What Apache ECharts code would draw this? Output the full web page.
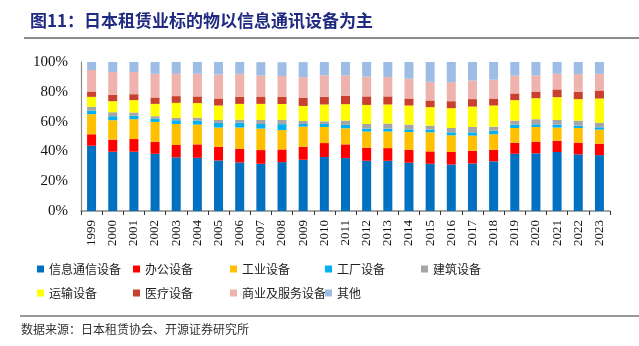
<!DOCTYPE html>
<html>
<head>
<meta charset="utf-8">
<script src="https://cdn.jsdelivr.net/npm/echarts@6/dist/echarts.min.js"></script>
<style>
html,body{margin:0;padding:0;background:#fff;}
#c{width:639px;height:346px;}
</style>
</head>
<body>
<div id="c"></div>
<script>
const years = ['1999','2000','2001','2002','2003','2004','2005','2006','2007','2008','2009','2010','2011','2012','2013','2014','2015','2016','2017','2018','2019','2020','2021','2022','2023'];
const seriesNames = ['信息通信设备','办公设备','工业设备','工厂设备','建筑设备','运输设备','医疗设备','商业及服务设备','其他'];
const infoComm = [43.8,39.8,39.8,38.4,36.0,35.7,33.9,32.6,31.7,32.8,34.4,36.2,35.5,33.7,33.7,32.4,31.7,31.2,31.9,33.3,38.4,38.7,39.6,38.0,37.5];
const office = [7.7,8.1,8.5,8.1,8.3,9.0,9.2,9.2,9.2,8.5,8.7,9.4,9.2,8.8,8.5,8.7,8.3,8.4,8.5,7.8,7.4,7.8,7.6,7.8,7.7];
const industrial = [13.5,13.0,13.3,13.3,14.1,13.3,12.9,14.2,14.4,13.0,13.5,10.8,10.8,10.8,11.1,11.9,12.8,11.2,10.2,10.4,9.9,9.9,8.8,9.9,9.4];
const factory = [2.4,2.7,2.4,2.2,2.5,2.7,3.1,3.3,3.1,4.0,1.8,2.0,2.3,2.0,2.0,1.8,1.8,2.0,2.2,2.4,2.3,1.8,2.0,1.6,1.6];
const construction = [2.5,2.7,2.1,1.6,1.6,2.0,2.0,2.0,2.7,2.9,2.0,1.8,2.9,3.1,3.4,3.2,2.7,2.9,3.6,2.7,2.7,3.4,3.1,3.4,3.1];
const transport = [6.7,7.4,8.3,8.3,10.1,9.7,9.7,10.6,10.8,10.6,10.1,11.3,11.0,12.8,12.8,12.8,12.4,13.3,13.7,14.2,13.7,14.1,15.3,14.4,16.2];
const medical = [3.6,4.3,4.0,4.3,4.5,4.5,4.7,4.7,4.9,4.9,5.6,5.1,5.6,5.7,5.4,4.7,4.5,4.7,5.0,4.7,4.5,4.5,5.2,4.9,5.4];
const commercial = [14.4,15.3,14.9,15.9,15.0,15.2,16.2,15.5,14.1,13.9,13.7,14.4,13.7,13.4,13.0,13.3,12.5,12.8,12.5,12.6,11.9,10.8,10.5,11.9,11.2];
const others = [5.4,6.7,6.7,7.9,7.9,7.9,8.3,7.9,9.0,9.2,10.1,9.0,9.0,9.7,10.1,11.2,13.3,13.5,12.4,11.9,9.2,9.0,7.9,8.1,7.9];
const yTickLabels = ['0%','20%','40%','60%','80%','100%'];

const seriesData = [infoComm, office, industrial, factory, construction, transport, medical, commercial, others];
const colors = ['#0070C0','#FF0000','#FFC000','#00B0F0','#A5A5A5','#FFFF00','#C9402F','#EDB3AC','#9DBCE6'];

const legendPos = [[37,263],[133,263],[230,263],[325,263],[421,263],[37,287],[133,287],[230,287],[325,287]];

const chart = echarts.init(document.getElementById('c'));
chart.setOption({
  animation: false,
  color: colors,
  title: {
    text: '图11：日本租赁业标的物以信息通讯设备为主',
    left: 25, top: 7,
    textStyle: {fontFamily: 'Noto Sans CJK SC', fontSize: 17, fontWeight: 'bold', color: '#1F2A80'}
  },
  graphic: [
    {type: 'rect', shape: {x: 24, y: 37, width: 615, height: 2}, style: {fill: '#8C8C8C'}},
    {type: 'rect', shape: {x: 20, y: 315.5, width: 619, height: 1}, style: {fill: '#333'}},
    {type: 'text', left: 21, top: 323, style: {text: '数据来源：日本租赁协会、开源证券研究所', font: '12px "Noto Sans CJK SC"', fill: '#333'}}
  ],
  legend: seriesNames.map((n, i) => ({
    data: [n], left: legendPos[i][0], top: legendPos[i][1], padding: 0,
    icon: 'rect', itemWidth: 7, itemHeight: 7,
    textStyle: {fontFamily: 'Noto Sans CJK SC', fontSize: 12, color: '#222'}
  })),
  grid: {left: 81, right: 29, top: 62, bottom: 135},
  xAxis: {
    type: 'category', data: years,
    axisLine: {lineStyle: {color: '#888', width: 1.5}},
    axisTick: {show: true, length: 4, lineStyle: {color: '#333'}},
    axisLabel: {rotate: 90, margin: 9, fontFamily: 'Liberation Serif', fontSize: 13, color: '#111'}
  },
  yAxis: {
    type: 'value', min: 0, max: 100, interval: 20,
    axisLine: {show: true, lineStyle: {color: '#888', width: 1.2}},
    axisTick: {show: false},
    splitLine: {show: false},
    axisLabel: {formatter: v => yTickLabels[v / 20], margin: 13, fontFamily: 'Liberation Serif', fontSize: 15, color: '#111'}
  },
  series: seriesNames.map((n, i) => ({
    name: n, type: 'bar', stack: 'total', barWidth: 9,
    data: seriesData[i]
  }))
});
</script>
</body>
</html>
